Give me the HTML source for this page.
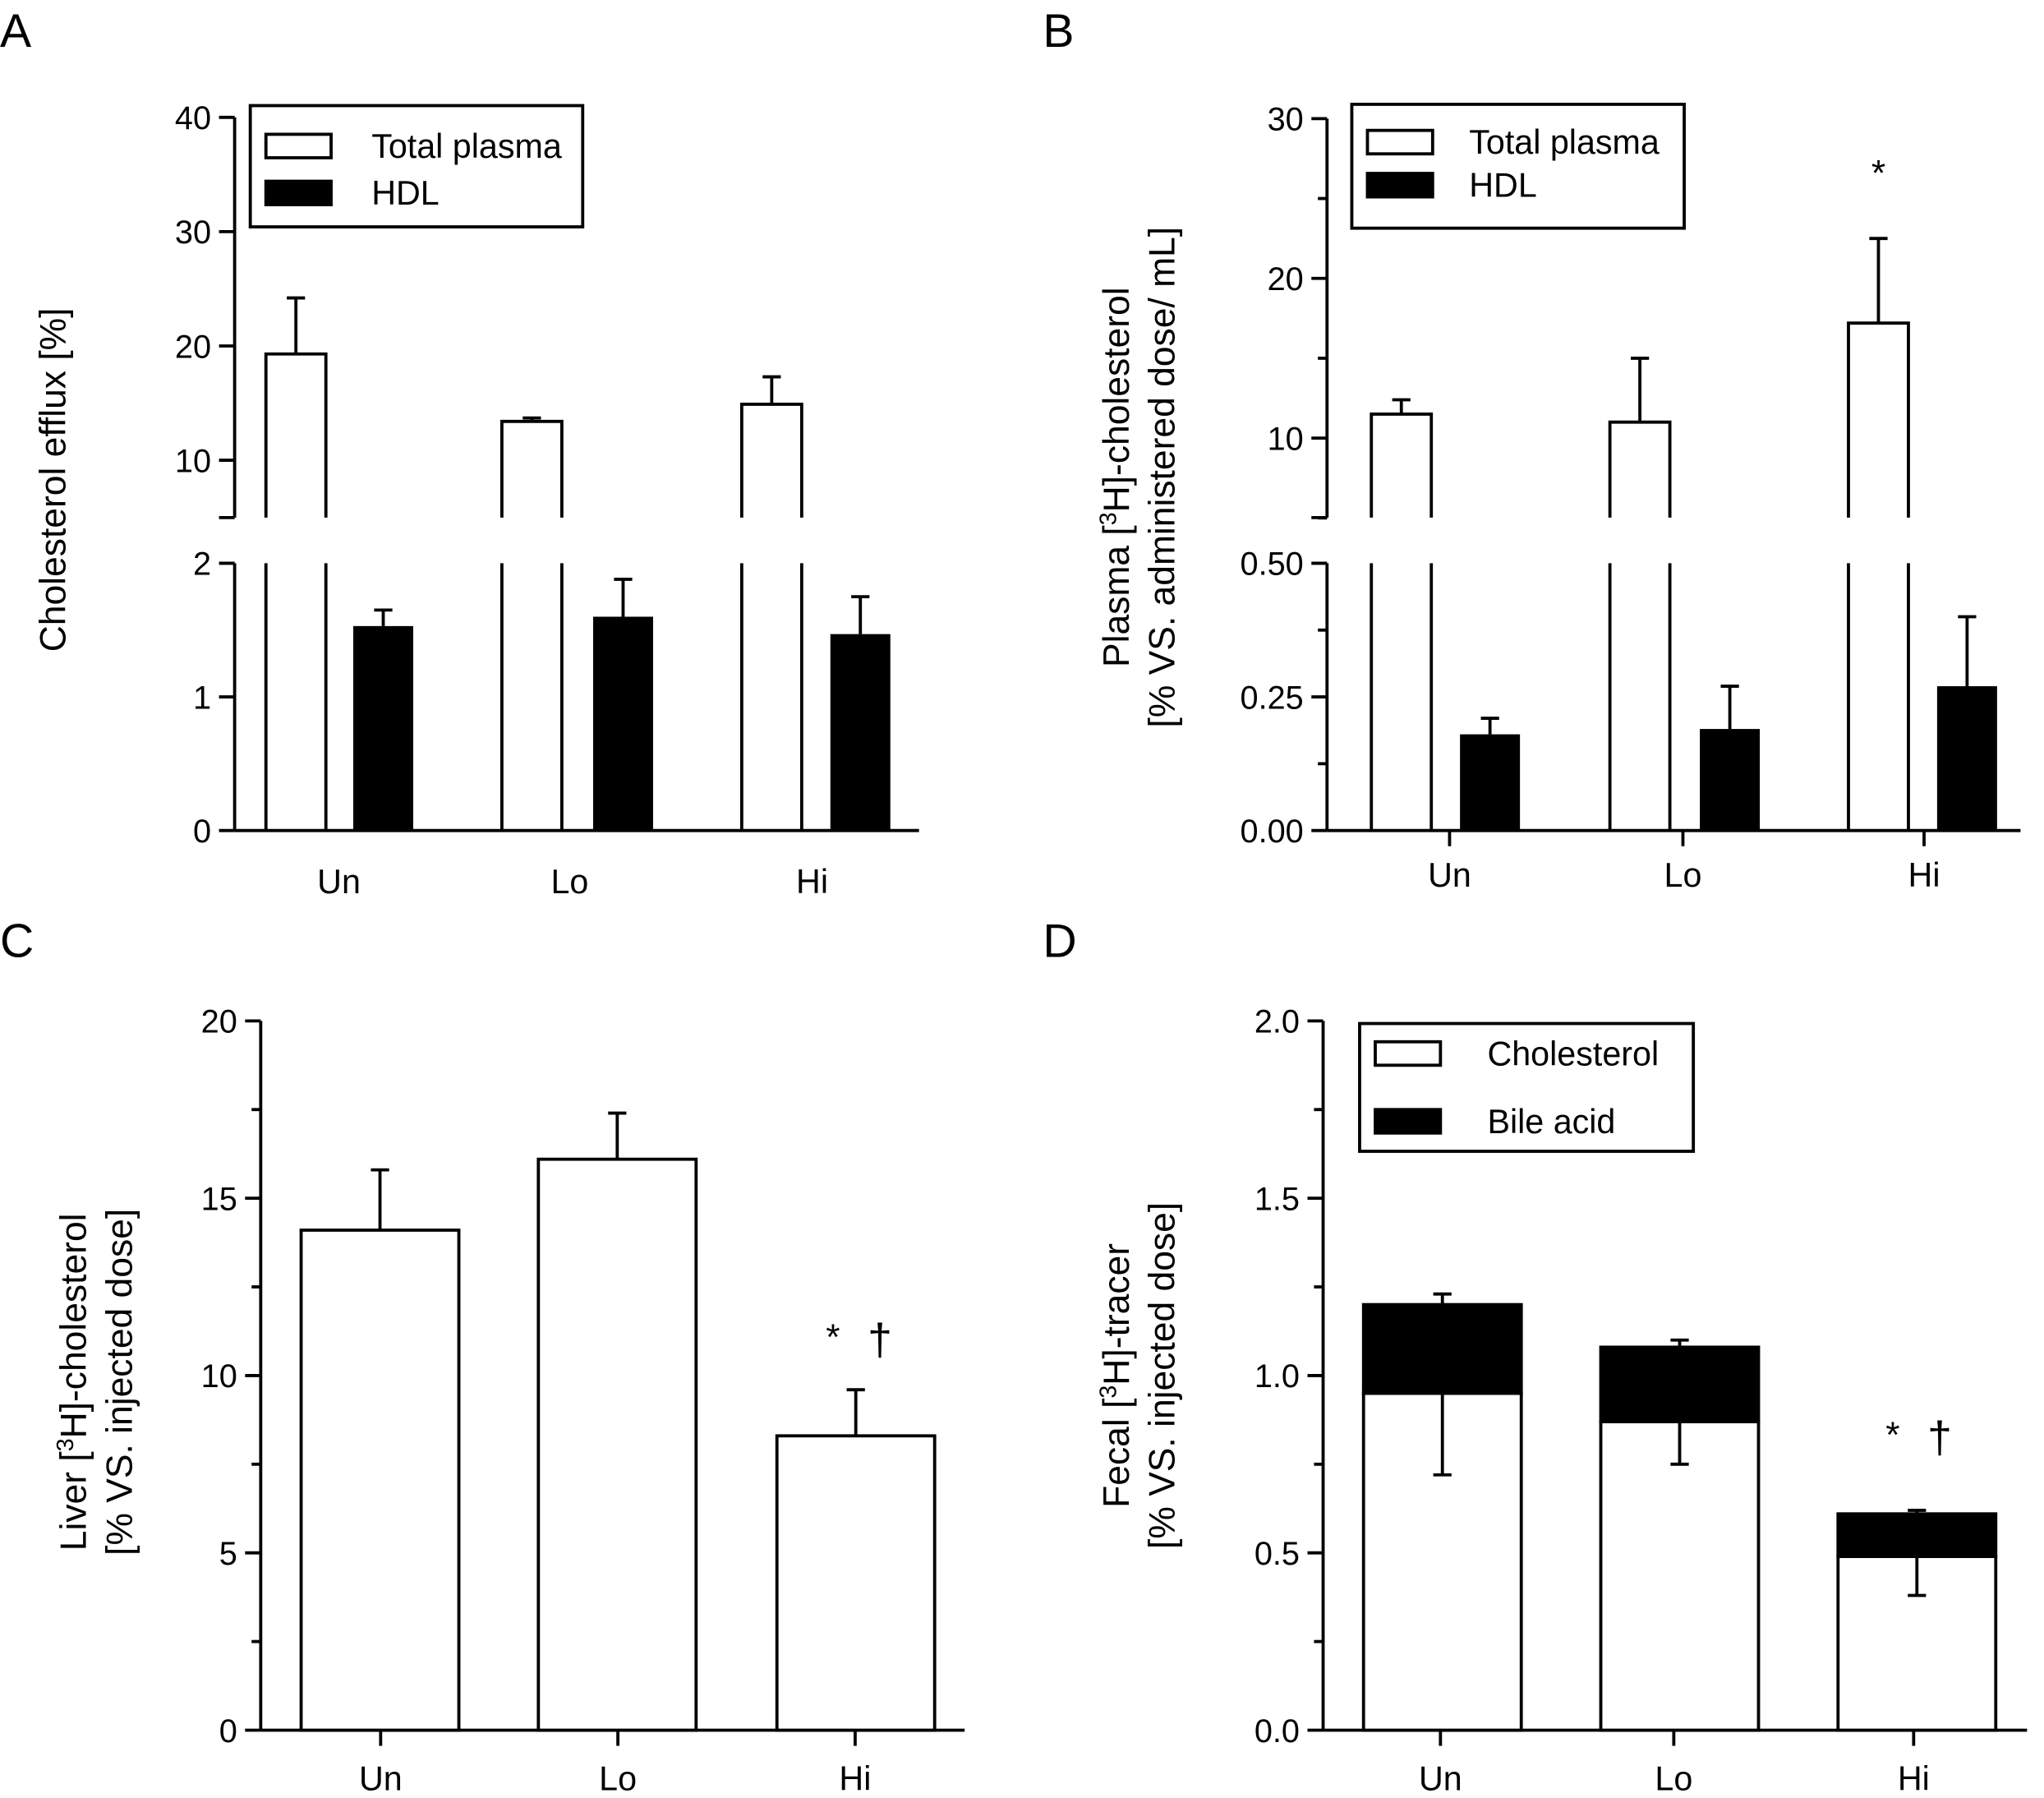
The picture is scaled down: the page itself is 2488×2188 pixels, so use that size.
<!DOCTYPE html>
<html><head><meta charset="utf-8"><style>
html,body{margin:0;padding:0;background:#fff;}
svg{display:block;}
text{font-family:"Liberation Sans",sans-serif;fill:#000;}
.tk{font-family:"Liberation Sans Narrow","Liberation Sans",sans-serif;}
</style></head><body>
<svg id="fig" xmlns="http://www.w3.org/2000/svg" width="2488" height="2188" viewBox="0 0 1568 1379" preserveAspectRatio="none">
<rect width="1568" height="1379" fill="#fff"/>
</svg>
<script>
// ---- data ----
const groups = ["Un","Lo","Hi"];
// Panel A
const aTotal = [19.3, 13.4, 14.9];
const aTotalErr = [24.2, 13.7, 17.3];
const aHDL = [1.53, 1.6, 1.47];
const aHDLErr = [1.65, 1.88, 1.75];
const aUpperTicks = [10,20,30,40];
const aLowerTicks = [0,1,2];
// Panel B
const bTotal = [11.5, 11.0, 17.2];
const bTotalErr = [12.4, 15.0, 22.5];
const bHDL = [0.18, 0.19, 0.27];
const bHDLErr = [0.21, 0.27, 0.40];
const bUpperTicks = [10,20,30];
const bUpperMinor = [5,15,25];
const bLowerTicks = [0,0.25,0.5];
const bLowerLabels = ["0.00","0.25","0.50"];
const bLowerMinor = [0.125,0.375];
// Panel C
const cLiver = [14.1, 16.1, 8.3];
const cLiverErr = [15.8, 17.4, 9.6];
const cTicks = [0,5,10,15,20];
const cMinor = [2.5,7.5,12.5,17.5];
// Panel D
const dChol = [0.95, 0.87, 0.49];
const dCholErrLow = [0.72, 0.75, 0.38];
const dTotal = [1.2, 1.08, 0.61];
const dTotalErr = [1.23, 1.1, 0.62];
const dTicks = [0,0.5,1.0,1.5,2.0];
const dTickLabels = ["0.0","0.5","1.0","1.5","2.0"];
const dMinor = [0.25,0.75,1.25,1.75];

const NS="http://www.w3.org/2000/svg";
const svg=document.getElementById('fig');
const LW=2.4;
function el(tag,attrs,parent,txt){const e=document.createElementNS(NS,tag);for(const k in attrs)e.setAttribute(k,attrs[k]);if(txt!==undefined)e.textContent=txt;(parent||svg).appendChild(e);return e;}
function line(x1,y1,x2,y2,w,p){return el('line',{x1,y1,x2,y2,stroke:'#000','stroke-width':w||LW},p);}
function lin(d0,d1,r0,r1){return v=>r0+(v-d0)/(d1-d0)*(r1-r0);}
function txt(x,y,s,size,anchor,p,cls){const t=el('text',{x,y,'font-size':size,'text-anchor':anchor||'middle'},p,s);if(cls)t.setAttribute('class',cls);return t;}
function yTicks(ax,ticks,labels,scale,minor,p){
  ticks.forEach((v,i)=>{const y=scale(v);line(ax-12,y,ax,y,LW,p);const t=txt(ax-18,y+9,labels?labels[i]:String(v),25,'end',p,'tk');
  
  });
  (minor||[]).forEach(v=>{const y=scale(v);line(ax-7,y,ax,y,LW,p);});
}
function errUp(cx,y0,y1,p){line(cx,y0,cx,y1,LW,p);line(cx-7,y1,cx+7,y1,LW,p);}
function xLabels(centers,y,p,tickY){groups.forEach((g,i)=>{if(tickY!==undefined)line(centers[i],tickY,centers[i],tickY+12,LW,p);const t=txt(centers[i],y,g,26,'middle',p);
  
  });}
function legend(x,y,w,h,items,p){const g=el('g',{},p);
  
  
  el('rect',{x,y,width:w,height:h,fill:'#fff',stroke:'#000','stroke-width':LW},g);
  items.forEach((it,i)=>{const yy=y+it.dy;el('rect',{x:x+12,y:yy-9,width:50,height:18,fill:it.fill,stroke:'#000','stroke-width':LW},g);txt(x+it.tx,yy+9,it.label,26,'start',g);});}
function panelLetter(x,y,s){const t=txt(x,y,s,36,'start');
  
  }
function rotTitle(x,y,lines,p){const t=el('text',{transform:`translate(${x},${y}) rotate(-90)`,'font-size':28,'text-anchor':'middle'},p);lines.forEach((l,i)=>{const ts=el('tspan',{x:0,dy:i?35:0},t);ts.innerHTML=l;});return t;}
function sig(x,y,p){const g=el('g',{},p);
  
  
  txt(x-18,y,'*',28,'middle',g);txt(x+18,y+4,'†',34,'middle',g);}

// ---- Panel A ----
(function(){
  const p=el('g',{});
  
  
  panelLetter(0,36,'A');
  const ax=180, yU=lin(10,40,353,90), yL=lin(0,2,637,432);
  line(ax,90,ax,397,LW,p); line(ax,432,ax,637,LW,p); line(ax-12,397,ax,397,LW,p);
  line(ax,637,705,637,LW,p);
  yTicks(ax,aUpperTicks,null,yU,null,p); yTicks(ax,aLowerTicks,null,yL,null,p);
  const wx=[204,385,569], bx=[271,455,637], bw=46;
  groups.forEach((g,i)=>{
    const r=el('path',{d:`M${wx[i]},397 V${yU(aTotal[i])} H${wx[i]+bw} V397 M${wx[i]},432 V637 M${wx[i]+bw},432 V637`,fill:'none',stroke:'#000','stroke-width':LW},p);
    
    
    errUp(wx[i]+bw/2,yU(aTotal[i]),yU(aTotalErr[i]),p);
    const b=el('rect',{x:bx[i],y:yL(aHDL[i]),width:bw,height:yL(0)-yL(aHDL[i]),fill:'#000'},p);
    
    
    errUp(bx[i]+bw/2,yL(aHDL[i]),yL(aHDLErr[i]),p);
  });
  xLabels([260,437,623],685,p);
  legend(192,81,255,93,[{dy:31,tx:93,label:'Total plasma',fill:'#fff'},{dy:67,tx:93,label:'HDL',fill:'#000'}],p);
  const t=rotTitle(50,368,['Cholesterol efflux [%]'],p);
  
  
})();

// ---- Panel B ----
(function(){
  const p=el('g',{});
  
  
  panelLetter(800,36,'B');
  const ax=1018, yU=lin(10,30,336,91), yL=lin(0,0.5,637,432);
  line(ax,91,ax,397,LW,p); line(ax,432,ax,637,LW,p); line(ax-12,397,ax,397,LW,p);
  line(ax,637,1550,637,LW,p);
  yTicks(ax,bUpperTicks,null,yU,bUpperMinor,p); yTicks(ax,bLowerTicks,bLowerLabels,yL,bLowerMinor,p);
  const wx=[1052,1235,1418], bx=[1120,1304,1486], bw=46;
  groups.forEach((g,i)=>{
    const r=el('path',{d:`M${wx[i]},397 V${yU(bTotal[i])} H${wx[i]+bw} V397 M${wx[i]},432 V637 M${wx[i]+bw},432 V637`,fill:'none',stroke:'#000','stroke-width':LW},p);
    
    
    errUp(wx[i]+bw/2,yU(bTotal[i]),yU(bTotalErr[i]),p);
    const b=el('rect',{x:bx[i],y:yL(bHDL[i]),width:bw,height:yL(0)-yL(bHDL[i]),fill:'#000'},p);
    
    
    errUp(bx[i]+bw/2,yL(bHDL[i]),yL(bHDLErr[i]),p);
  });
  xLabels([1112,1291,1476],680,p,637);
  const s=txt(1441,142,'*',28,'middle',p);
  
  
  legend(1037,80,255,95,[{dy:29,tx:90,label:'Total plasma',fill:'#fff'},{dy:62,tx:90,label:'HDL',fill:'#000'}],p);
  const t=rotTitle(866,366,['Plasma [<tspan font-size="18" dy="-10">3</tspan><tspan dy="10">H]-cholesterol</tspan>','[% VS. administered dose/ mL]'],p);
  
  
})();

// ---- Panel C ----
(function(){
  const p=el('g',{});
  
  
  panelLetter(0,734,'C');
  const ax=200, y=lin(0,20,1327,783);
  line(ax,783,ax,1327,LW,p); line(ax,1327,740,1327,LW,p);
  yTicks(ax,cTicks,null,y,cMinor,p);
  const bx=[231,413,596], bw=121;
  groups.forEach((g,i)=>{
    const r=el('rect',{x:bx[i],y:y(cLiver[i]),width:bw,height:y(0)-y(cLiver[i]),fill:'#fff',stroke:'#000','stroke-width':LW},p);
    
    
    errUp(bx[i]+bw/2,y(cLiver[i]),y(cLiverErr[i]),p);
  });
  xLabels([292,474,656],1373,p,1327);
  sig(657,1035,p);
  const t=rotTitle(66,1060,['Liver [<tspan font-size="18" dy="-10">3</tspan><tspan dy="10">H]-cholesterol</tspan>','[% VS. injected dose]'],p);
  
  
})();

// ---- Panel D ----
(function(){
  const p=el('g',{});
  
  
  panelLetter(800,734,'D');
  const ax=1015, y=lin(0,2,1327,783);
  line(ax,783,ax,1327,LW,p); line(ax,1327,1555,1327,LW,p);
  yTicks(ax,dTicks,dTickLabels,y,dMinor,p);
  const bx=[1046,1228,1410], bw=121;
  groups.forEach((g,i)=>{
    const r=el('rect',{x:bx[i],y:y(dChol[i]),width:bw,height:y(0)-y(dChol[i]),fill:'#fff',stroke:'#000','stroke-width':LW},p);
    
    
    const b=el('rect',{x:bx[i],y:y(dTotal[i]),width:bw,height:y(dChol[i])-y(dTotal[i]),fill:'#000',stroke:'#000','stroke-width':LW},p);
    
    
    errUp(bx[i]+bw/2,y(dTotal[i]),y(dTotalErr[i]),p);
    errUp(bx[i]+bw/2,y(dChol[i]),y(dCholErrLow[i]),p);
  });
  xLabels([1105,1284,1468],1373,p,1327);
  sig(1470,1110,p);
  legend(1043,785,256,98,[{dy:23,tx:98,label:'Cholesterol',fill:'#fff'},{dy:75,tx:98,label:'Bile acid',fill:'#000'}],p);
  const t=rotTitle(866,1055,['Fecal [<tspan font-size="18" dy="-10">3</tspan><tspan dy="10">H]-tracer</tspan>','[% VS. injected dose]'],p);
  
  
})();
</script>
</body></html>
